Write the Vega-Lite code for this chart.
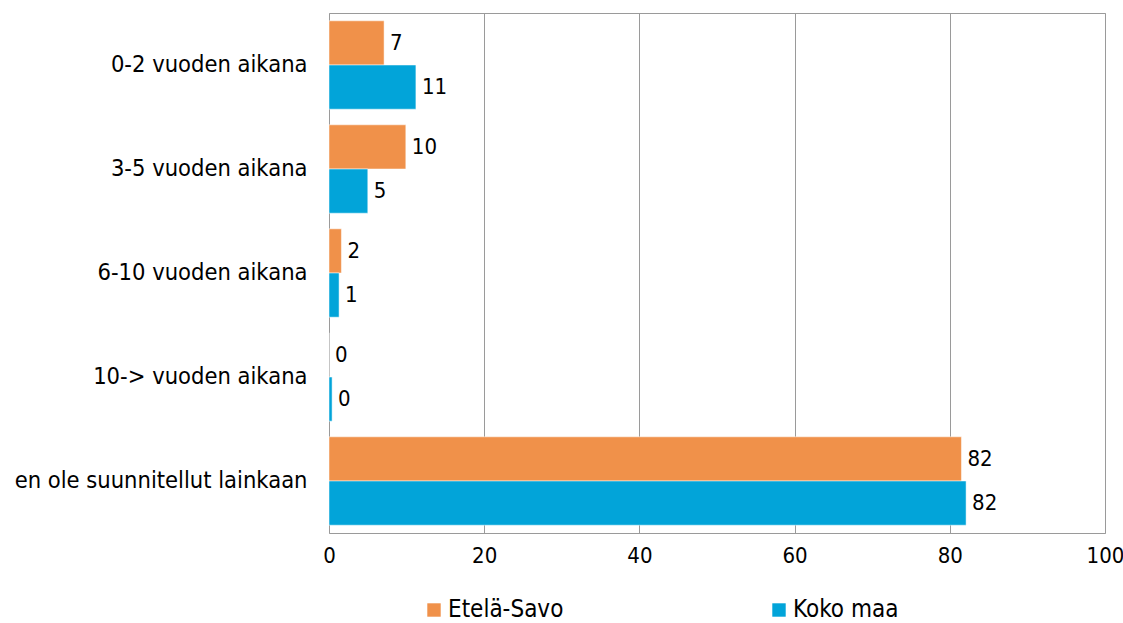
{
  "$schema": "https://vega.github.io/schema/vega-lite/v6.json",
  "autosize": "none",
  "padding": {"left": 329, "top": 13, "right": 18, "bottom": 90},
  "width": 776,
  "height": 520,
  "background": "white",
  "config": {
    "font": "DejaVu Sans Condensed",
    "view": {"stroke": "#9a9a9a", "strokeWidth": 1}
  },
  "data": {
    "values": [
      {"cat": "0-2 vuoden aikana", "series": "Etelä-Savo", "value": 7.1, "label": "7"},
      {"cat": "0-2 vuoden aikana", "series": "Koko maa", "value": 11.2, "label": "11"},
      {"cat": "3-5 vuoden aikana", "series": "Etelä-Savo", "value": 9.9, "label": "10"},
      {"cat": "3-5 vuoden aikana", "series": "Koko maa", "value": 5.0, "label": "5"},
      {"cat": "6-10 vuoden aikana", "series": "Etelä-Savo", "value": 1.6, "label": "2"},
      {"cat": "6-10 vuoden aikana", "series": "Koko maa", "value": 1.3, "label": "1"},
      {"cat": "10-> vuoden aikana", "series": "Etelä-Savo", "value": 0.0, "label": "0"},
      {"cat": "10-> vuoden aikana", "series": "Koko maa", "value": 0.4, "label": "0"},
      {"cat": "en ole suunnitellut lainkaan", "series": "Etelä-Savo", "value": 81.5, "label": "82"},
      {"cat": "en ole suunnitellut lainkaan", "series": "Koko maa", "value": 82.1, "label": "82"}
    ]
  },
  "encoding": {
    "y": {
      "field": "cat", "type": "nominal", "sort": null,
      "scale": {"paddingInner": 0.15, "paddingOuter": 0.075},
      "axis": {"title": null, "domain": false, "ticks": false, "labelFontSize": 23.5, "labelColor": "#000000", "labelPadding": 22, "labelLimit": 400}
    },
    "yOffset": {"field": "series", "type": "nominal", "sort": ["Etelä-Savo", "Koko maa"]},
    "x": {
      "field": "value", "type": "quantitative",
      "scale": {"domain": [0, 100], "nice": false},
      "axis": {"title": null, "values": [0, 20, 40, 60, 80, 100], "labelFlush": false, "labelOverlap": false, "domain": false, "ticks": false, "grid": true, "gridColor": "#9a9a9a", "gridOpacity": 1, "labelFontSize": 22, "labelColor": "#000000", "labelPadding": 12}
    }
  },
  "layer": [
    {
      "mark": {"type": "bar", "stroke": "white", "strokeWidth": 0.5},
      "encoding": {
        "color": {
          "field": "series", "type": "nominal",
          "scale": {"domain": ["Etelä-Savo", "Koko maa"], "range": ["#F0914A", "#02A4D9"]},
          "legend": {
            "title": null, "orient": "none", "legendX": 93, "legendY": 585,
            "direction": "horizontal", "columns": 2, "columnPadding": 203,
            "symbolType": "square", "symbolSize": 180, "symbolStrokeWidth": 0,
            "labelFontSize": 24, "labelColor": "#000000", "labelOffset": 2
          }
        }
      }
    },
    {
      "mark": {"type": "text", "align": "left", "baseline": "middle", "dx": 6, "fontSize": 22, "color": "#000000"},
      "encoding": {"text": {"field": "label"}}
    }
  ]
}
